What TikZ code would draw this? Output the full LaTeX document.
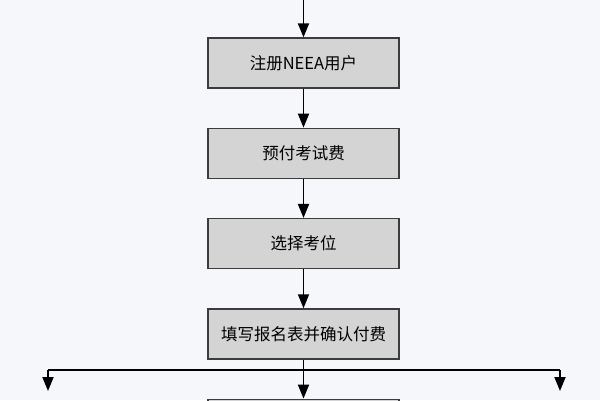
\documentclass[tikz,border=0pt]{standalone}
\usepackage{fontspec}
\setmainfont{Noto Sans CJK SC}
\usetikzlibrary{positioning,arrows.meta}
\definecolor{regbg}{RGB}{245,247,250}
\definecolor{regbox}{RGB}{212,212,212}
\definecolor{regline}{RGB}{60,60,60}

\begin{document}
\begin{tikzpicture}[x=1pt,y=1pt,
  every node/.style={font=\fontsize{16.5pt}{19pt}\selectfont},
  stepbox/.style={draw=regline,fill=regbox,line width=1.3pt,minimum width=191pt,minimum height=50pt,align=center,inner sep=0pt},
  flow/.style={line width=1.8pt,black,-{Triangle[length=14pt,width=11pt]}},
  node distance=39pt]

\fill[regbg] (0,0) rectangle (600,-400);
\clip (0,0) rectangle (600,-400);

\node[stepbox] (neea) at (303.5,-63) {注册NEEA用户};
\node[stepbox,above=of neea] (start) {};
\node[stepbox,below=of neea] (prepay) {预付考试费};
\node[stepbox,below=of prepay] (seat) {选择考位};
\node[stepbox,below=of seat] (form) {填写报名表并确认付费};
\node[stepbox,below=of form] (next) {};

\draw[flow] (start)--(neea); \draw[flow](neea)--(prepay); \draw[flow](prepay)--(seat); \draw[flow](seat)--(form);
\draw[flow] (form)--(next);

% side branches
\coordinate (leftend) at (48,-370);
\coordinate (rightend) at (560,-370);
\coordinate (lefttip) at (48,-391);
\coordinate (righttip) at (560,-391);
\draw[line width=1.6pt] (leftend)--(rightend);
\draw[flow] (leftend)--(lefttip);
\draw[flow] (rightend)--(righttip);
\end{tikzpicture}
\end{document}
